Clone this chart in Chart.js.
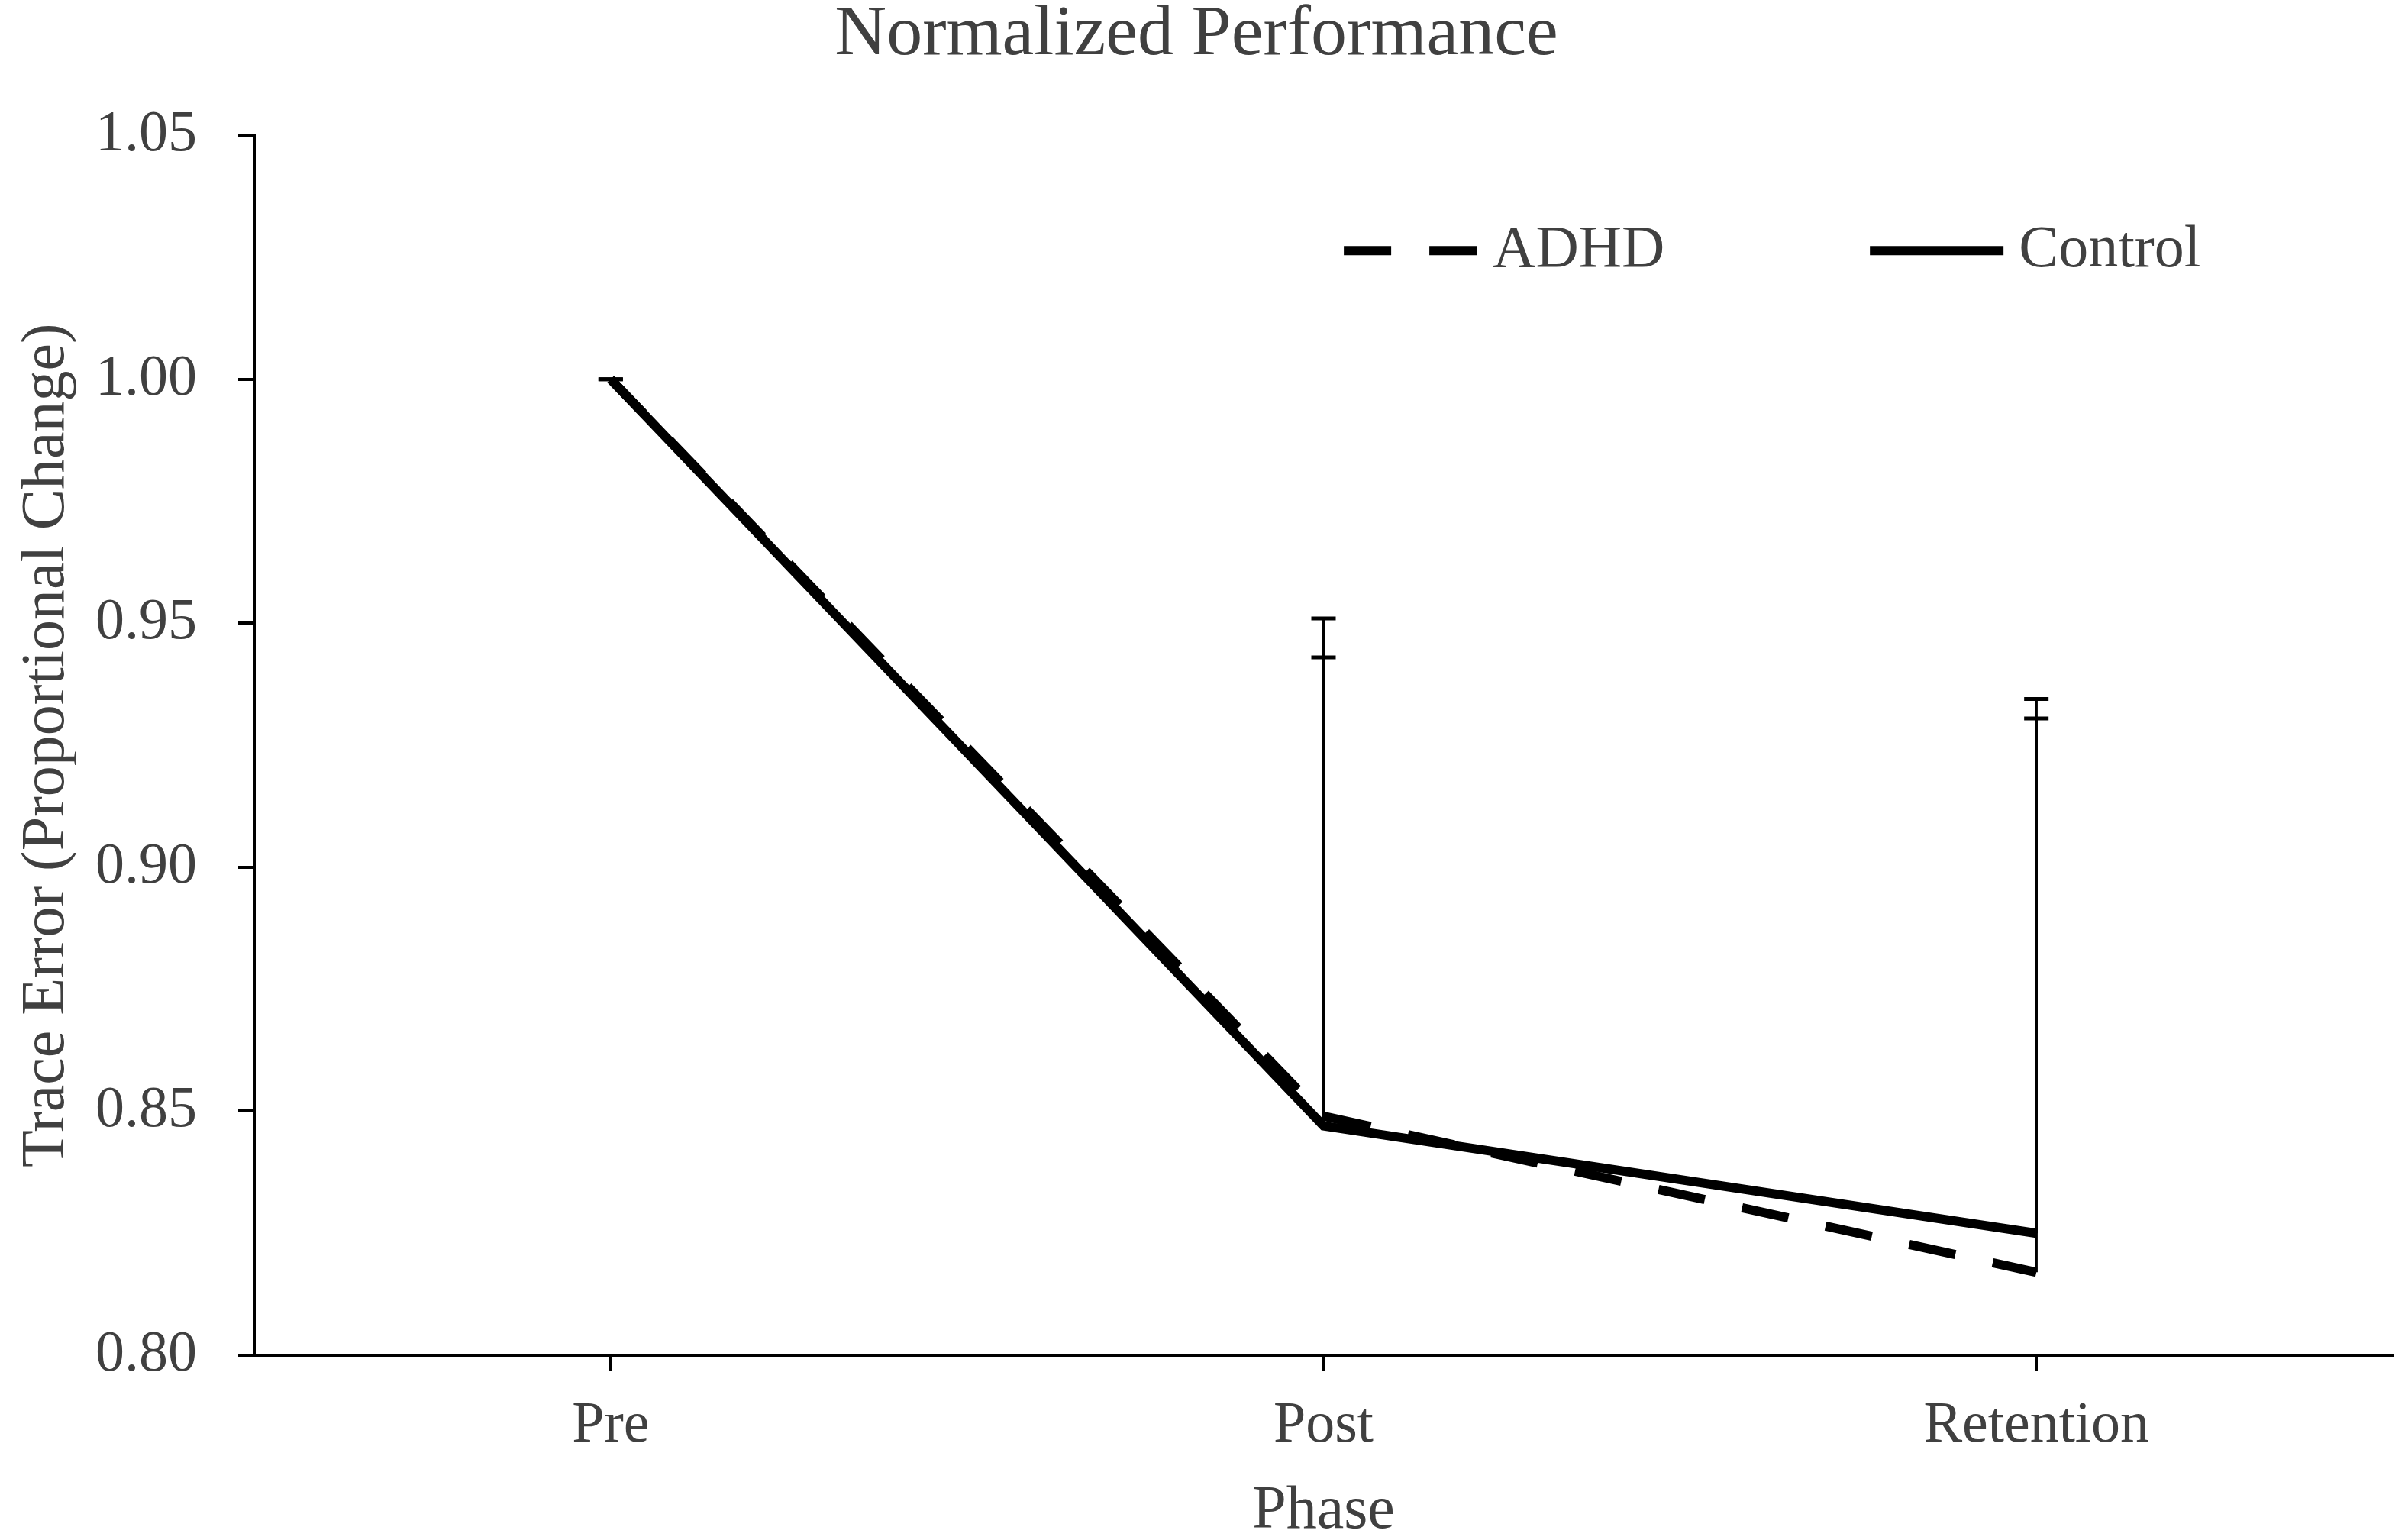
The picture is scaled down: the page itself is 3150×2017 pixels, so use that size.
<!DOCTYPE html>
<html>
<head>
<meta charset="utf-8">
<script src="https://cdn.jsdelivr.net/npm/chart.js@4"></script>
<style>
  html, body { margin: 0; padding: 0; background: #ffffff; }
  #wrap { width: 3150px; height: 2017px; }
</style>
</head>
<body>
<div id="wrap"><canvas id="c" width="3150" height="2017"></canvas></div>
<script>
// ---- data ----
const categories = ['Pre', 'Post', 'Retention'];
const adhdValues = [1.000, 0.849, 0.817];
const controlValues = [1.000, 0.847, 0.825];
const adhdErrPlus = [0, 0.102, 0.1175];
const controlErrPlus = [0, 0.096, 0.1055];
const seriesLabels = ['ADHD', 'Control'];
const chartTitle = 'Normalized Performance';
const xTitle = 'Phase';
const yTitle = 'Trace Error (Proportional Change)';
const yMin = 0.80, yMax = 1.05, yStep = 0.05;

const FONT = '"Liberation Serif", "Times New Roman", serif';
const TEXT = '#404040';

const errorBarPlugin = {
  id: 'errorBars',
  afterDatasetsDraw(chart) {
    const ctx = chart.ctx;
    const xs = chart.scales.x, ys = chart.scales.y;
    ctx.save();
    ctx.strokeStyle = '#000';
    chart.data.datasets.forEach(ds => {
      const errs = ds.errPlus || [];
      ds.data.forEach((v, i) => {
        const x = xs.getPixelForValue(i);
        const y0 = ys.getPixelForValue(v);
        const y1 = ys.getPixelForValue(v + errs[i]);
        ctx.lineWidth = 3.5;
        ctx.beginPath(); ctx.moveTo(x, y0); ctx.lineTo(x, y1); ctx.stroke();
        ctx.lineWidth = 5;
        ctx.beginPath(); ctx.moveTo(x - 16, y1); ctx.lineTo(x + 16, y1); ctx.stroke();
      });
    });
    ctx.restore();
  }
};

const insideLegendPlugin = {
  id: 'insideLegend',
  afterDraw(chart) {
    const ctx = chart.ctx;
    const a = chart.chartArea;
    const starts = [0.5095, 0.7555];
    const y = a.top + 0.0945 * (a.bottom - a.top);
    const lineLen = 175;
    ctx.save();
    chart.data.datasets.forEach((ds, i) => {
      const x0 = a.left + starts[i] * (a.right - a.left);
      ctx.strokeStyle = ds.borderColor;
      ctx.lineWidth = ds.borderWidth;
      ctx.setLineDash(ds.borderDash || []);
      ctx.lineCap = 'butt';
      ctx.beginPath(); ctx.moveTo(x0, y); ctx.lineTo(x0 + lineLen, y); ctx.stroke();
      ctx.setLineDash([]);
      ctx.fillStyle = TEXT;
      ctx.font = '78px ' + FONT;
      ctx.textBaseline = 'middle';
      ctx.textAlign = 'left';
      ctx.fillText(ds.label, x0 + lineLen + 20, y);
    });
    ctx.restore();
  }
};

new Chart(document.getElementById('c'), {
  type: 'line',
  data: {
    labels: categories,
    datasets: [
      {
        label: seriesLabels[0],
        data: adhdValues,
        errPlus: adhdErrPlus,
        borderColor: '#000000',
        borderWidth: 12,
        borderDash: [62, 50],
        pointRadius: 0,
        tension: 0,
        fill: false
      },
      {
        label: seriesLabels[1],
        data: controlValues,
        errPlus: controlErrPlus,
        borderColor: '#000000',
        borderWidth: 12,
        pointRadius: 0,
        tension: 0,
        fill: false
      }
    ]
  },
  options: {
    responsive: false,
    devicePixelRatio: 1,
    animation: false,
    layout: { padding: { left: 0, right: 16, top: 2, bottom: 0 } },
    plugins: {
      legend: { display: false },
      tooltip: { enabled: false },
      title: {
        display: true,
        text: chartTitle,
        color: TEXT,
        font: { family: FONT, size: 94, weight: 'normal', lineHeight: 0.8 },
        padding: { top: 7, bottom: 93 }
      }
    },
    scales: {
      x: {
        type: 'category',
        offset: true,
        grid: { display: true, offset: false, drawOnChartArea: false, drawTicks: true, tickLength: 20, color: '#000', lineWidth: 4 },
        border: { display: true, color: '#000', width: 4 },
        ticks: { color: TEXT, font: { family: FONT, size: 76 }, padding: 27, maxRotation: 0 },
        title: { display: true, text: xTitle, color: TEXT, font: { family: FONT, size: 80, lineHeight: 0.92 }, padding: { top: 0, bottom: 0 } },
        afterFit(scale) { scale.height = 242; }
      },
      y: {
        min: yMin,
        max: yMax,
        grid: { display: true, drawOnChartArea: false, drawTicks: true, tickLength: 21, color: '#000', lineWidth: 4 },
        border: { display: true, color: '#000', width: 4 },
        ticks: {
          stepSize: yStep,
          color: TEXT,
          font: { family: FONT, size: 76 },
          padding: 54,
          callback: v => Number(v).toFixed(2)
        },
        title: { display: true, text: yTitle, color: TEXT, font: { family: FONT, size: 80, lineHeight: 1.2 }, padding: { top: 14, bottom: 0 } },
        afterFit(scale) { scale.width = 333; }
      }
    }
  },
  plugins: [errorBarPlugin, insideLegendPlugin]
});
</script>
</body>
</html>
